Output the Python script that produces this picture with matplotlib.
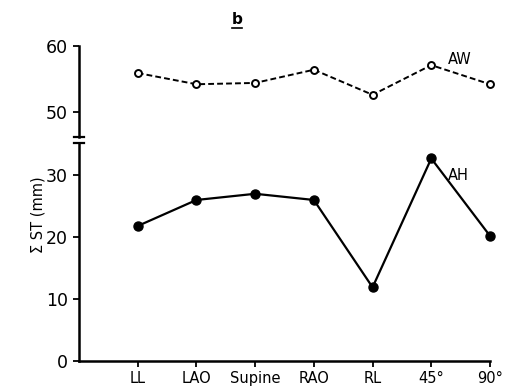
import matplotlib
matplotlib.use("Agg")
import matplotlib.pyplot as plt
from matplotlib.lines import Line2D

# data
positions = ["LL", "LAO", "Supine", "RAO", "RL", "45°", "90°"]
aw_values = [55.9, 54.2, 54.4, 56.4, 52.6, 57.1, 54.2]
ah_values = [21.8, 26.0, 27.0, 26.0, 11.9, 32.7, 20.2]

W, H = 508, 389
fig = plt.figure(figsize=(W / 100, H / 100), dpi=100)
plt.rcParams["font.family"] = ["DejaVu Sans"]

left, right = 79 / W, 490 / W
ax_top = fig.add_axes([left, 1 - 137 / H, right - left, (137 - 46) / H])
ax_bot = fig.add_axes([left, 1 - 361 / H, right - left, (361 - 143) / H])

x = list(range(len(positions)))

ax_top.plot(x, aw_values, color="black", linestyle=(0, (3, 1.6)), linewidth=1.4,
            marker="o", markersize=5, markerfacecolor="white",
            markeredgecolor="black", markeredgewidth=1.4, clip_on=False)
ax_bot.plot(x, ah_values, color="black", linewidth=1.6,
            marker="o", markersize=6.5, markerfacecolor="black",
            markeredgecolor="black", clip_on=False)

for ax in (ax_top, ax_bot):
    ax.set_xlim(-1, 6)
    for s in ("top", "right"):
        ax.spines[s].set_visible(False)
    ax.spines["left"].set_linewidth(1.8)
    ax.tick_params(axis="y", direction="out", length=4, width=1.3,
                   labelsize=12.5, pad=4)

ax_top.set_ylim(46.2, 60)
ax_top.set_yticks([50, 60])
ax_top.spines["bottom"].set_visible(False)
ax_top.set_xticks([])

ax_bot.set_ylim(0, 35.2)
ax_bot.set_yticks([0, 10, 20, 30])
ax_bot.spines["bottom"].set_linewidth(1.8)
ax_bot.set_xticks(x)
ax_bot.set_xticklabels(positions)
ax_bot.tick_params(axis="x", direction="out", length=4, width=1.3,
                   labelsize=10.5, pad=3)

# break marks on the y axis
for ax, yv in ((ax_top, 0), (ax_bot, 1)):
    ax.add_line(Line2D([-0.012, 0.012], [yv, yv], transform=ax.transAxes,
                       color="black", linewidth=1.6, clip_on=False))

ax_top.text(5.28, 57.9, "AW", fontsize=10.5, ha="left", va="center")
ax_bot.text(5.28, 30.0, "AH", fontsize=10.5, ha="left", va="center")

fig.text(38 / W, 1 - 215 / H, "Σ ST (mm)", rotation=90, fontsize=10.5,
         ha="center", va="center")
fig.text(237 / W, 1 - 20 / H, "b", fontsize=11, fontweight="bold",
         ha="center", va="center")
fig.add_artist(Line2D([232 / W, 242 / W], [1 - 28 / H, 1 - 28 / H],
                      color="black", linewidth=1.2))

fig.savefig("out.png", dpi=100)
